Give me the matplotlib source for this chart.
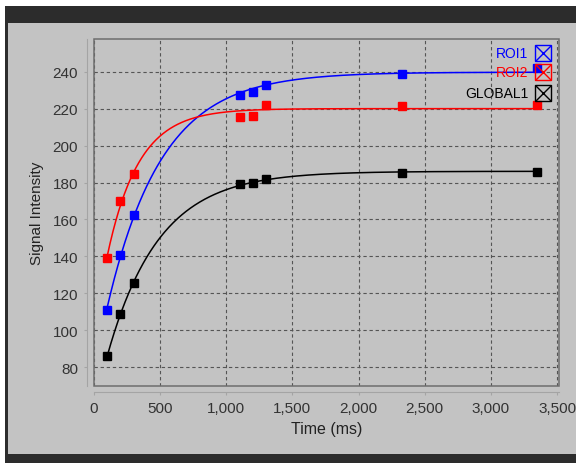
import numpy as np
import matplotlib
matplotlib.use("Agg")
import matplotlib.pyplot as plt
from matplotlib.patches import Rectangle
from matplotlib.lines import Line2D
from matplotlib.ticker import FuncFormatter, MultipleLocator

# ---- data ----
time_ms = np.array([100, 200, 300, 1100, 1200, 1300, 2330, 3350], dtype=float)
roi1 = np.array([111.2, 140.8, 162.6, 227.5, 229.2, 232.8, 238.8, 242.0])
roi2 = np.array([139.2, 169.9, 184.6, 215.7, 216.2, 222.2, 221.3, 222.0])
global1 = np.array([86.3, 108.8, 125.6, 179.2, 179.9, 181.9, 185.2, 185.9])
series_names = ["ROI1", "ROI2", "GLOBAL1"]
series_colors = ["#0000ff", "#ff0000", "#000000"]
series_values = [roi1, roi2, global1]
x_ticks = [0, 500, 1000, 1500, 2000, 2500, 3000, 3500]
y_ticks = [80, 100, 120, 140, 160, 180, 200, 220, 240]

W, H = 576, 464
BG = "#c3c3c3"
plt.rcParams['font.family'] = ['Liberation Sans', 'DejaVu Sans']

fig = plt.figure(figsize=(W / 100, H / 100), dpi=100, facecolor=BG)


def fx(x):
    return x / W


def fy(y):
    return 1 - y / H


def frect(x0, y0, x1, y1, color):
    fig.add_artist(Rectangle((fx(x0), fy(y1)), fx(x1) - fx(x0), fy(y0) - fy(y1),
                             transform=fig.transFigure, facecolor=color,
                             edgecolor="none", zorder=-5))


# window decorations
frect(0, 0, W, 7, "#ffffff")
frect(0, 0, 5, H, "#ffffff")
frect(5, 7, W, 24, "#2c2c2c")
frect(5, 7, 8, H, "#2c2c2c")
frect(5, 455, W, H, "#2c2c2c")

# axes (plot area)
ax_l, ax_r, ax_t, ax_b = 94, 559, 39.5, 386.7
ax = fig.add_axes([fx(ax_l), fy(ax_b), fx(ax_r) - fx(ax_l), fy(ax_t) - fy(ax_b)])
ax.set_facecolor(BG)
ax.set_xlim(0, 3515)
ax.set_ylim(70, 258)


def fit_recovery(t, s):
    best = None
    for T in np.linspace(50, 2000, 3901):
        e = np.exp(-t / T)
        M = np.column_stack([np.ones_like(t), -e])
        coef, _, _, _ = np.linalg.lstsq(M, s, rcond=None)
        sse = np.sum((M @ coef - s) ** 2)
        if best is None or sse < best[0]:
            best = (sse, coef[0], coef[1], T)
    return best[1:]


tt = np.linspace(time_ms.min(), time_ms.max(), 600)
for name, col, vals in zip(series_names, series_colors, series_values):
    A, C, T = fit_recovery(time_ms, vals)
    ax.plot(tt, A - C * np.exp(-tt / T), color=col, lw=1.1, zorder=3)
    ax.plot(time_ms, vals, ls="none", marker="s", ms=6, color=col,
            mec=col, zorder=4)

ax.xaxis.set_major_locator(MultipleLocator(500))
ax.yaxis.set_major_locator(MultipleLocator(20))
ax.set_xticks(x_ticks)
ax.set_yticks(y_ticks)
ax.xaxis.set_major_formatter(FuncFormatter(lambda v, p: f"{v:,.0f}"))
ax.set_xlim(0, 3515)
ax.set_ylim(70, 258)

ax.grid(True, color="#555555", lw=0.8, linestyle=(0, (3, 2.5)))
ax.set_axisbelow(True)

for s in ["top", "right"]:
    ax.spines[s].set_visible(False)
ax.spines["left"].set_position(("outward", 5))
ax.spines["bottom"].set_position(("outward", 4.5))
for s in ["left", "bottom"]:
    ax.spines[s].set_color("#a4a4a4")
    ax.spines[s].set_linewidth(0.8)
ax.tick_params(direction="out", length=2.5, width=0.8, color="#a4a4a4",
               labelcolor="#333333", labelsize=11, pad=4)

ax.add_patch(Rectangle((0, 0), 1, 1, transform=ax.transAxes, fill=False,
                       edgecolor="#6e6e6e", lw=1.1, zorder=2, clip_on=False))

ax.set_xlabel("Time (ms)", fontsize=11.5, color="#222222", labelpad=4)
ax.set_ylabel("Signal Intensity", fontsize=11, color="#222222", labelpad=6)

# legend (inside plot, top-right)
leg_y = [54, 73, 94]
for name, col, y in zip(series_names, series_colors, leg_y):
    fig.text(fx(528), fy(y), name, color=col, fontsize=10, ha="right",
             va="center", zorder=10)
    for mk in ["s", "x"]:
        fig.add_artist(Line2D([fx(543)], [fy(y)], transform=fig.transFigure,
                              marker=mk, ms=12, mfc="none", mec=col,
                              mew=1.0, ls="none", zorder=10))

fig.savefig("out.png", dpi=100, facecolor=BG)
